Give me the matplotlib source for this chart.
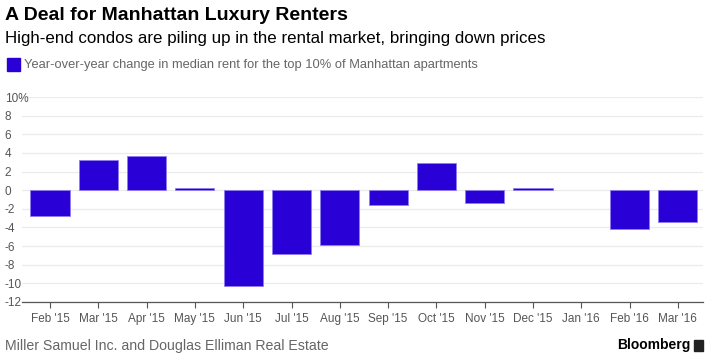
import matplotlib.pyplot as plt
import matplotlib.patches as mpatches

months = ["Feb '15", "Mar '15", "Apr '15", "May '15", "Jun '15", "Jul '15", "Aug '15",
          "Sep '15", "Oct '15", "Nov '15", "Dec '15", "Jan '16", "Feb '16", "Mar '16"]
change = [-2.8, 3.2, 3.7, 0.2, -10.3, -6.8, -5.9, -1.6, 2.9, -1.4, 0.2, 0.0, -4.2, -3.4]
yticks = [10, 8, 6, 4, 2, 0, -2, -4, -6, -8, -10, -12]
ylabels = ["10%", "8", "6", "4", "2", "0", "-2", "-4", "-6", "-8", "-10", "-12"]

plt.rcParams["font.family"] = ["Liberation Sans", "DejaVu Sans"]
blue = "#2900d6"


def main():
    fig = plt.figure(figsize=(7.17, 3.58), dpi=100)
    ax = fig.add_axes([22 / 717, 1 - 302 / 358, (703 - 22) / 717, (302 - 97) / 358])

    x = list(range(len(months)))
    bars = ax.bar(x, change, width=0.81, color=blue, edgecolor="#8f7cf0", linewidth=0.6, zorder=3)
    # no visible mark for a zero value
    for b, v in zip(bars, change):
        if v == 0:
            b.set_linewidth(0)

    ax.set_xlim(-0.58, 13.52)
    ax.set_ylim(-12, 10)
    ax.set_xticks(x)
    ax.set_xticklabels(months, fontsize=8.5, color="#555555")
    ax.set_yticks(yticks)
    ax.set_yticklabels(ylabels, fontsize=8.5, color="#555555")
    for lab in ax.get_yticklabels():
        lab.set_horizontalalignment("left")
    ax.tick_params(axis="y", length=0, pad=12.5)
    ax.tick_params(axis="x", length=4, color="#555555", width=0.8, pad=4)

    ax.grid(axis="y", color="#ebebeb", linewidth=0.9, zorder=0)
    for side in ["top", "right", "left"]:
        ax.spines[side].set_visible(False)
    ax.spines["bottom"].set_color("#555555")
    ax.spines["bottom"].set_linewidth(0.9)

    # header texts
    fig.text(5 / 717, 1 - 16 / 358, "A Deal for Manhattan Luxury Renters", fontsize=14,
             fontweight="bold", va="center", ha="left", color="black")
    fig.text(5 / 717, 1 - 38 / 358,
             "High-end condos are piling up in the rental market, bringing down prices",
             fontsize=12.2, va="center", ha="left", color="black")
    fig.patches.append(mpatches.Rectangle((7 / 717, 1 - 71 / 358), 13 / 717, 13 / 358,
                                          transform=fig.transFigure, color=blue))
    fig.text(24 / 717, 1 - 65 / 358,
             "Year-over-year change in median rent for the top 10% of Manhattan apartments",
             fontsize=9.3, va="center", ha="left", color="#666666")

    # footer
    fig.text(5 / 717, 1 - 346 / 358, "Miller Samuel Inc. and Douglas Elliman Real Estate",
             fontsize=10.2, va="center", ha="left", color="#666666")
    fig.text(690 / 717, 1 - 345 / 358, "Bloomberg", fontsize=10, fontweight="bold",
             va="center", ha="right", color="black")
    fig.patches.append(mpatches.Rectangle((694 / 717, 1 - 351 / 358), 9 / 717, 11 / 358,
                                          transform=fig.transFigure, color="#222222"))

    plt.savefig("out.png", dpi=100)


if __name__ == "__main__":
    main()
